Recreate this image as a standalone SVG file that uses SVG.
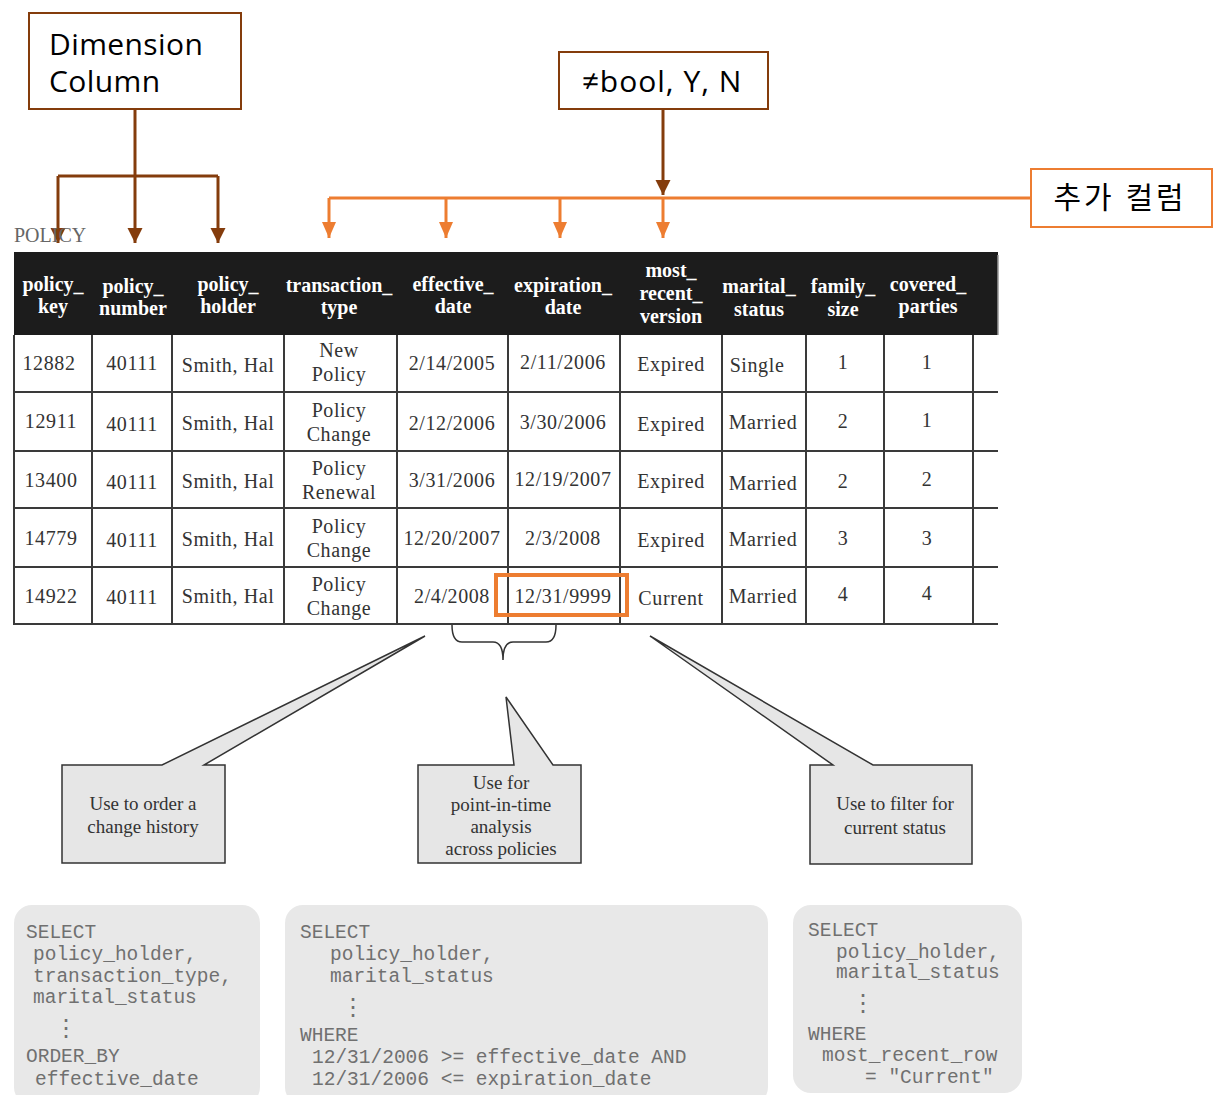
<svg xmlns="http://www.w3.org/2000/svg" width="1216" height="1095" viewBox="0 0 1216 1095">
<defs>
<style>
.ann{font-family:"Open Sans","Noto Sans","Noto Sans CJK KR",sans-serif;font-size:30px;fill:#000}
.brown{stroke:#843C0C;stroke-width:3;fill:none}
.orange{stroke:#ED7D31;stroke-width:3;fill:none}
.hd{font-family:"Liberation Serif",serif;font-weight:bold;font-size:20px;fill:#fff;text-anchor:middle}
.cell{font-family:"Liberation Serif",serif;font-size:20px;fill:#333;text-anchor:middle;letter-spacing:0.6px}
.grid{stroke:#3a3a3a;stroke-width:2}
.callout{fill:#e6e6e6;stroke:#333;stroke-width:1.5}
.ct{font-family:"Liberation Serif",serif;font-size:19px;fill:#333;text-anchor:middle}
.sqlbox{fill:#e8e8e8}
.sql{font-family:"Liberation Mono",monospace;font-size:19.5px;fill:#707070;white-space:pre}
.dots{font-family:"DejaVu Sans Mono",monospace;font-size:24px;fill:#707070}
</style>
<marker id="ab" markerUnits="userSpaceOnUse" markerWidth="16" markerHeight="16" refX="15" refY="7.5" orient="auto"><path d="M0,0 L15,7.5 L0,15 z" fill="#843C0C"/></marker>
<marker id="ao" markerUnits="userSpaceOnUse" markerWidth="17" markerHeight="16" refX="16" refY="7" orient="auto"><path d="M0,0 L16,7 L0,14 z" fill="#ED7D31"/></marker>
</defs>
<rect width="1216" height="1095" fill="#fff"/>

<g id="dimension-column">
<rect x="29" y="13" width="212" height="96" fill="#fff" stroke="#843C0C" stroke-width="2"/>
<text class="ann" x="49" y="55" letter-spacing="0.4">Dimension</text>
<text class="ann" x="49" y="92" letter-spacing="0.4">Column</text>
</g>
<g id="not-bool">
<rect x="559" y="52" width="209" height="57" fill="#fff" stroke="#843C0C" stroke-width="2"/>
<text class="ann" x="662" y="92" text-anchor="middle" letter-spacing="1">≠bool, Y, N</text>
</g>
<g id="extra-columns">
<rect x="1031" y="169" width="181" height="58" fill="#fff" stroke="#ED7D31" stroke-width="2"/>
<text class="ann" x="1120" y="208" text-anchor="middle" font-size="31" letter-spacing="3">추가 컬럼</text>
</g>

<g id="connectors">
<path class="brown" d="M135,109 V176"/>
<path class="brown" d="M58,176 H218"/>
<path class="brown" d="M58,176 V243" marker-end="url(#ab)"/>
<path class="brown" d="M135,176 V243" marker-end="url(#ab)"/>
<path class="brown" d="M218,176 V243" marker-end="url(#ab)"/>
<path class="brown" d="M663,109 V195" stroke-width="2.5" marker-end="url(#ab)"/>
<path class="orange" d="M1031,198 H329"/>
<path class="orange" d="M329,198 V238" stroke-width="2.5" marker-end="url(#ao)"/>
<path class="orange" d="M446,198 V238" stroke-width="2.5" marker-end="url(#ao)"/>
<path class="orange" d="M560,198 V238" stroke-width="2.5" marker-end="url(#ao)"/>
<path class="orange" d="M663,198 V238" stroke-width="2.5" marker-end="url(#ao)"/>
<path d="M452,625 Q452,642 462,642 L493,642 Q503,642 503,660 Q503,642 513,642 L546,642 Q556,642 556,625" fill="none" stroke="#333" stroke-width="1.5"/>
</g>

<g id="policy-table">
<text x="14" y="242" font-family="Liberation Serif,serif" font-size="20" fill="#666">POLICY</text>
<rect x="14" y="252" width="984" height="83" fill="#1c1c1c"/>
<line x1="998" y1="255" x2="998" y2="335" stroke="#999" stroke-width="1.5"/>
<text class="hd" x="53" y="291">policy_</text><text class="hd" x="53" y="313">key</text>
<text class="hd" x="133" y="293">policy_</text><text class="hd" x="133" y="315">number</text>
<text class="hd" x="228" y="291">policy_</text><text class="hd" x="228" y="313">holder</text>
<text class="hd" x="339" y="292">transaction_</text><text class="hd" x="339" y="314">type</text>
<text class="hd" x="453" y="291">effective_</text><text class="hd" x="453" y="313">date</text>
<text class="hd" x="563" y="292">expiration_</text><text class="hd" x="563" y="314">date</text>
<text class="hd" x="671" y="277">most_</text><text class="hd" x="671" y="300">recent_</text><text class="hd" x="671" y="323">version</text>
<text class="hd" x="759" y="293">marital_</text><text class="hd" x="759" y="316">status</text>
<text class="hd" x="843" y="293">family_</text><text class="hd" x="843" y="316">size</text>
<text class="hd" x="928" y="291">covered_</text><text class="hd" x="928" y="313">parties</text>

<g class="grid">
<line x1="14" y1="392" x2="998" y2="392"/>
<line x1="14" y1="451" x2="998" y2="451"/>
<line x1="14" y1="508" x2="998" y2="508"/>
<line x1="14" y1="567" x2="998" y2="567"/>
<line x1="14" y1="624" x2="998" y2="624"/>
<line x1="14" y1="335" x2="14" y2="625"/>
<line x1="92" y1="335" x2="92" y2="625"/>
<line x1="172" y1="335" x2="172" y2="625"/>
<line x1="284" y1="335" x2="284" y2="625"/>
<line x1="397" y1="335" x2="397" y2="625"/>
<line x1="508" y1="335" x2="508" y2="625"/>
<line x1="620" y1="335" x2="620" y2="625"/>
<line x1="722" y1="335" x2="722" y2="625"/>
<line x1="806" y1="335" x2="806" y2="625"/>
<line x1="884" y1="335" x2="884" y2="625"/>
<line x1="973" y1="335" x2="973" y2="625"/>
</g>

<text class="cell" x="49" y="370">12882</text><text class="cell" x="132" y="370">40111</text><text class="cell" x="228" y="372">Smith, Hal</text>
<text class="cell" x="339" y="357">New</text><text class="cell" x="339" y="381">Policy</text>
<text class="cell" x="452" y="370">2/14/2005</text><text class="cell" x="563" y="369">2/11/2006</text>
<text class="cell" x="671" y="371">Expired</text><text class="cell" x="757" y="372">Single</text>
<text class="cell" x="843" y="369">1</text><text class="cell" x="927" y="369">1</text>

<text class="cell" x="51" y="428">12911</text><text class="cell" x="132" y="431">40111</text><text class="cell" x="228" y="430">Smith, Hal</text>
<text class="cell" x="339" y="417">Policy</text><text class="cell" x="339" y="441">Change</text>
<text class="cell" x="452" y="430">2/12/2006</text><text class="cell" x="563" y="429">3/30/2006</text>
<text class="cell" x="671" y="431">Expired</text><text class="cell" x="763" y="429">Married</text>
<text class="cell" x="843" y="428">2</text><text class="cell" x="927" y="427">1</text>

<text class="cell" x="51" y="487">13400</text><text class="cell" x="132" y="489">40111</text><text class="cell" x="228" y="488">Smith, Hal</text>
<text class="cell" x="339" y="475">Policy</text><text class="cell" x="339" y="499">Renewal</text>
<text class="cell" x="452" y="487">3/31/2006</text><text class="cell" x="563" y="486">12/19/2007</text>
<text class="cell" x="671" y="488">Expired</text><text class="cell" x="763" y="490">Married</text>
<text class="cell" x="843" y="488">2</text><text class="cell" x="927" y="486">2</text>

<text class="cell" x="51" y="545">14779</text><text class="cell" x="132" y="547">40111</text><text class="cell" x="228" y="546">Smith, Hal</text>
<text class="cell" x="339" y="533">Policy</text><text class="cell" x="339" y="557">Change</text>
<text class="cell" x="452" y="545">12/20/2007</text><text class="cell" x="563" y="545">2/3/2008</text>
<text class="cell" x="671" y="547">Expired</text><text class="cell" x="763" y="546">Married</text>
<text class="cell" x="843" y="545">3</text><text class="cell" x="927" y="545">3</text>

<text class="cell" x="51" y="603">14922</text><text class="cell" x="132" y="604">40111</text><text class="cell" x="228" y="603">Smith, Hal</text>
<text class="cell" x="339" y="591">Policy</text><text class="cell" x="339" y="615">Change</text>
<text class="cell" x="452" y="603">2/4/2008</text><text class="cell" x="563" y="603">12/31/9999</text>
<text class="cell" x="671" y="605">Current</text><text class="cell" x="763" y="603">Married</text>
<text class="cell" x="843" y="601">4</text><text class="cell" x="927" y="600">4</text>

<rect x="496" y="575" width="131" height="40" fill="none" stroke="#ED7D31" stroke-width="4"/>
</g>

<g id="callout-order">
<path class="callout" d="M62,765 L162,765 L425,636 L204,765 L225,765 L225,863 L62,863 Z"/>
<text class="ct" x="143" y="810">Use to order a</text>
<text class="ct" x="143" y="833">change history</text>
</g>
<g id="callout-point-in-time">
<path class="callout" d="M418,765 L514,765 L506,697 L553,765 L581,765 L581,863 L418,863 Z"/>
<text class="ct" x="501" y="789">Use for</text>
<text class="ct" x="501" y="811">point-in-time</text>
<text class="ct" x="501" y="833">analysis</text>
<text class="ct" x="501" y="855">across policies</text>
</g>
<g id="callout-filter">
<path class="callout" d="M810,765 L833,765 L650,636 L873,765 L972,765 L972,864 L810,864 Z"/>
<text class="ct" x="895" y="810">Use to filter for</text>
<text class="ct" x="895" y="834">current status</text>
</g>

<g id="sql-order">
<rect class="sqlbox" x="14" y="905" width="246" height="200" rx="18"/>
<text class="sql" x="26" y="938">SELECT</text>
<text class="sql" x="33" y="960">policy_holder,</text>
<text class="sql" x="33" y="982">transaction_type,</text>
<text class="sql" x="33" y="1003">marital_status</text>
<text class="dots" x="54" y="1036">⋮</text>
<text class="sql" x="26" y="1062">ORDER_BY</text>
<text class="sql" x="35" y="1085">effective_date</text>
</g>
<g id="sql-point-in-time">
<rect class="sqlbox" x="285" y="905" width="483" height="200" rx="18"/>
<text class="sql" x="300" y="938">SELECT</text>
<text class="sql" x="330" y="960">policy_holder,</text>
<text class="sql" x="330" y="982">marital_status</text>
<text class="dots" x="341" y="1015">⋮</text>
<text class="sql" x="300" y="1041">WHERE</text>
<text class="sql" x="312" y="1063">12/31/2006 &gt;= effective_date AND</text>
<text class="sql" x="312" y="1085">12/31/2006 &lt;= expiration_date</text>
</g>
<g id="sql-filter">
<rect class="sqlbox" x="793" y="905" width="229" height="188" rx="18"/>
<text class="sql" x="808" y="936">SELECT</text>
<text class="sql" x="836" y="958">policy_holder,</text>
<text class="sql" x="836" y="978">marital_status</text>
<text class="dots" x="851" y="1011">⋮</text>
<text class="sql" x="808" y="1040">WHERE</text>
<text class="sql" x="822" y="1061">most_recent_row</text>
<text class="sql" x="865" y="1083">= "Current"</text>
</g>
</svg>
